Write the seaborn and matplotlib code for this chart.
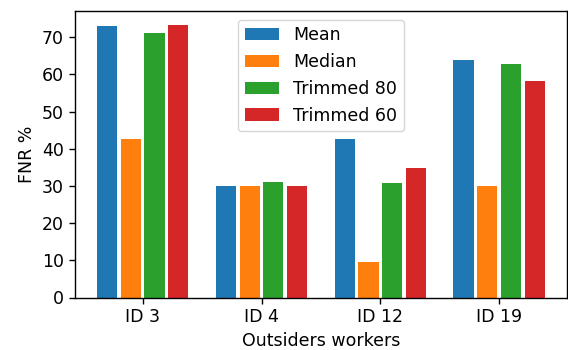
import pandas as pd
import matplotlib
matplotlib.use("Agg")
import matplotlib.pyplot as plt
import seaborn as sns

workers = ["ID 3", "ID 4", "ID 12", "ID 19"]
methods = ["Mean", "Median", "Trimmed 80", "Trimmed 60"]
mean_fnr = [73.1, 29.9, 42.5, 64.0]
median_fnr = [42.5, 29.9, 9.5, 29.9]
trimmed80_fnr = [71.2, 31.0, 30.7, 62.7]
trimmed60_fnr = [73.4, 29.9, 34.7, 58.1]

rows = []
for method, values in zip(methods, [mean_fnr, median_fnr, trimmed80_fnr, trimmed60_fnr]):
    for worker, v in zip(workers, values):
        rows.append({"worker": worker, "method": method, "fnr": v})
df = pd.DataFrame(rows)

plt.rcParams["font.family"] = ["DejaVu Sans"]
plt.rcParams["font.size"] = 12.5
plt.rcParams["axes.linewidth"] = 1.0
plt.rcParams["xtick.major.size"] = 4.4
plt.rcParams["ytick.major.size"] = 4.4
plt.rcParams["xtick.major.width"] = 1.0
plt.rcParams["ytick.major.width"] = 1.0

fig, ax = plt.subplots(figsize=(5.68, 3.5), dpi=100)
sns.barplot(data=df, x="worker", y="fnr", hue="method", order=workers, hue_order=methods,
            palette=sns.color_palette("tab10", 4), width=0.8, gap=0.15, saturation=1,
            errorbar=None, ax=ax)

ax.set_xlim(-0.57, 3.57)
ax.set_ylim(0, 77.1)
ax.set_yticks(range(0, 80, 10))
ax.set_xlabel("Outsiders workers")
ax.set_ylabel("FNR %")
ax.legend(loc="upper center", title=None)

fig.subplots_adjust(left=0.132, right=0.998, top=0.969, bottom=0.15)
fig.savefig("out.png", dpi=100)
